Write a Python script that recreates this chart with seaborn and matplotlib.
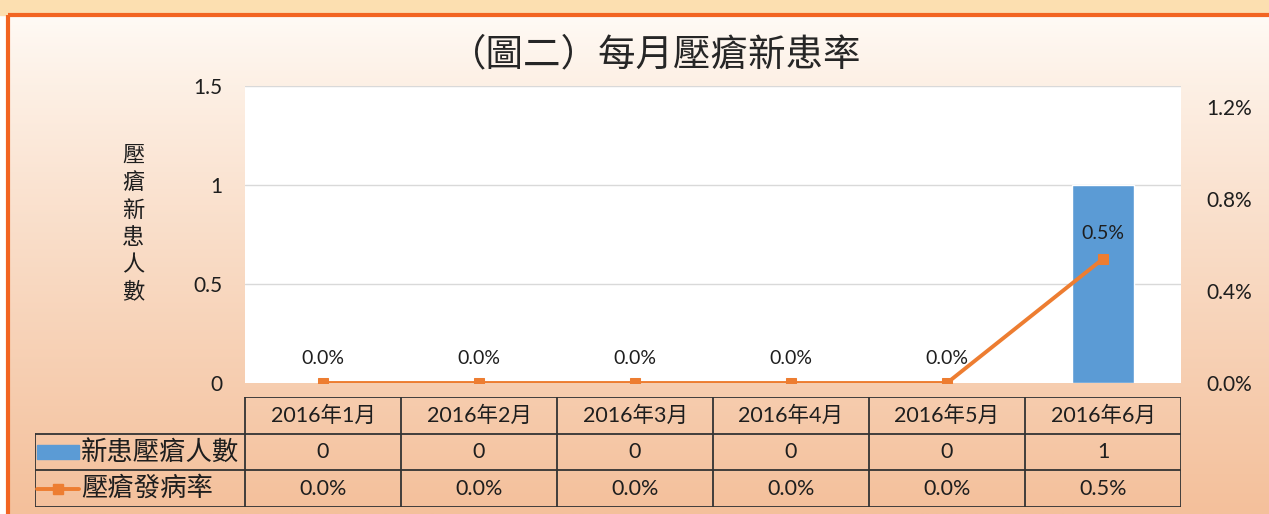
import numpy as np
import pandas as pd
import matplotlib
matplotlib.use("Agg")
import matplotlib.pyplot as plt
import seaborn as sns
from matplotlib.patches import Rectangle
from matplotlib.lines import Line2D

# data
months = ["2016年1月", "2016年2月", "2016年3月", "2016年4月", "2016年5月", "2016年6月"]
new_cases = [0, 0, 0, 0, 0, 1]
rate_pct = [0.0, 0.0, 0.0, 0.0, 0.0, 0.54]
left_ticks = [0, 0.5, 1, 1.5]
right_ticks = [0.0, 0.4, 0.8, 1.2]
title = "（圖二）每月壓瘡新患率"
ylabel = "壓瘡新患人數"
series_names = ["新患壓瘡人數", "壓瘡發病率"]

df = pd.DataFrame({"month": months, "count": new_cases, "rate": rate_pct})

sns.set_theme(style="white")
plt.rcParams["font.family"] = ["Lato", "Noto Sans CJK TC", "DejaVu Sans"]

BLUE = "#5B9BD5"
ORANGE = "#ED7D31"
TXT = "#1E1E1E"
W, H = 1269, 514

def box(x0, y0, x1, y1):
    return [x0 / W, 1 - y1 / H, (x1 - x0) / W, (y1 - y0) / H]

fig = plt.figure(figsize=(W / 100, H / 100), dpi=100)

# background gradient + frame
bg = fig.add_axes([0, 0, 1, 1])
bg.set_xlim(0, W)
bg.set_ylim(H, 0)
bg.axis("off")
t = np.linspace(0, 1, 200)[:, None, None]
top = np.array([255, 251, 246]) / 255
bot = np.array([244, 192, 155]) / 255
grad = top + (bot - top) * t ** 0.85
grad = np.repeat(grad, 2, axis=1)
bg.imshow(grad, extent=[8, W, H, 15], aspect="auto", zorder=0)
bg.add_patch(Rectangle((0, 0), W, 15, color="#FCDFB0", zorder=1))
bg.add_patch(Rectangle((8, 15), W, H, fill=False, edgecolor="#F26522", lw=3, zorder=2))

# main chart
ax = fig.add_axes(box(245, 86, 1181, 383))
ax.set_facecolor("white")
sns.barplot(data=df, x="month", y="count", color=BLUE, width=0.4, saturation=1, ax=ax, zorder=2)
ax.set_ylim(0, 1.5)
ax.set_yticks(left_ticks)
ax.set_yticklabels(["0", "0.5", "1", "1.5"], fontsize=15, color=TXT)
ax.tick_params(axis="y", length=0, pad=16)
ax.set_xticks([])
ax.set_xlabel("")
ax.set_ylabel("")
for v in left_ticks[1:]:
    ax.axhline(v, color="#D9D9D9", lw=1, zorder=1)
for s in ax.spines.values():
    s.set_visible(False)

ax2 = ax.twinx()
sns.lineplot(x=np.arange(len(months)), y=df["rate"], color=ORANGE, lw=2.8, marker="s",
             markersize=7, markeredgecolor=ORANGE, ax=ax2, zorder=3)
ax2.set_xlim(-0.5, len(months) - 0.5)
ax.set_xlim(-0.5, len(months) - 0.5)
ax2.set_ylim(0, 1.2913)
ax2.set_yticks(right_ticks)
ax2.set_yticklabels([f"{v:.1f}%" for v in right_ticks], fontsize=15, color=TXT)
ax2.tick_params(axis="y", length=0, pad=18)
ax2.set_ylabel("")
for s in ax2.spines.values():
    s.set_visible(False)
for i, v in enumerate(rate_pct):
    ax2.annotate(f"{v:.1f}%", (i, v), xytext=(0, 25), textcoords="offset pixels",
                 ha="center", va="center", fontsize=14, color=TXT)

# titles
fig.text(655 / W, 1 - 55 / H, title, ha="center", va="center", fontsize=27,
         color="#262626", fontweight="light")
fig.text(133 / W, 1 - 224 / H, "\n".join(ylabel), ha="center", va="center",
         fontsize=16, linespacing=1.4, color=TXT)

# data table
tab = fig.add_axes(box(35, 397, 1181, 507))
left = -0.5 - 210 / 156
tab.set_xlim(left, len(months) - 0.5)
tab.set_ylim(3, 0)
tab.axis("off")
lc = "#333333"
n = len(months)
tab.plot([-0.5, n - 0.5], [0, 0], color=lc, lw=1.3)
for y in [1, 2, 3]:
    tab.plot([left, n - 0.5], [y, y], color=lc, lw=1.3)
for i in range(n + 1):
    tab.plot([i - 0.5, i - 0.5], [0, 3], color=lc, lw=1.3)
tab.plot([left, left], [1, 3], color=lc, lw=1.3)
for i, m in enumerate(months):
    tab.text(i, 0.5, m, ha="center", va="center", fontsize=15.5, color=TXT)
    tab.text(i, 1.5, f"{new_cases[i]}", ha="center", va="center", fontsize=15.5, color=TXT)
    tab.text(i, 2.5, f"{rate_pct[i]:.1f}%", ha="center", va="center", fontsize=15.5, color=TXT)
u = 1 / 156
tab.add_patch(Rectangle((left + 2 * u, 1.3), 42 * u, 0.38, color=BLUE))
tab.add_line(Line2D([left + 2 * u, left + 44 * u], [2.5, 2.5], color=ORANGE, lw=2.8))
tab.plot([left + 23 * u], [2.5], marker="s", color=ORANGE, markersize=7)
tab.text(left + 46 * u, 1.5, series_names[0], ha="left", va="center", fontsize=19, color=TXT)
tab.text(left + 46 * u, 2.5, series_names[1], ha="left", va="center", fontsize=19, color=TXT)

fig.savefig("out.png", dpi=100)
